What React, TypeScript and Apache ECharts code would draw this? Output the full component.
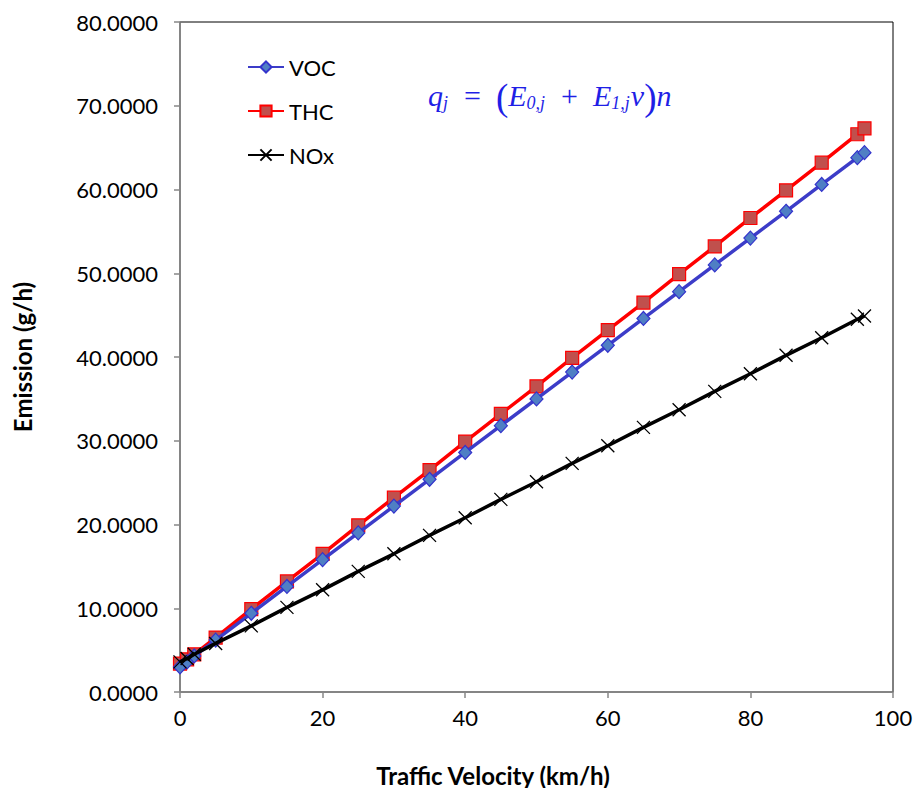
import React, { useEffect, useRef } from "react";
import * as echarts from "echarts";

const velocity = [0, 1, 2, 5, 10, 15, 20, 25, 30, 35, 40, 45, 50, 55, 60, 65, 70, 75, 80, 85, 90, 95, 96];
const voc = [3.0, 3.6, 4.3, 6.2, 9.4, 12.6, 15.8, 19.0, 22.2, 25.4, 28.6, 31.8, 35.0, 38.2, 41.4, 44.6, 47.8, 51.0, 54.2, 57.4, 60.6, 63.8, 64.4];
const thc = [3.4, 3.9, 4.5, 6.5, 9.9, 13.2, 16.5, 19.9, 23.2, 26.5, 29.9, 33.2, 36.5, 39.9, 43.2, 46.5, 49.9, 53.2, 56.6, 59.9, 63.2, 66.6, 67.3];
const nox = [3.6, 4.0, 4.5, 5.8, 7.9, 10.1, 12.2, 14.4, 16.5, 18.7, 20.8, 23.0, 25.1, 27.3, 29.4, 31.6, 33.7, 35.9, 38.0, 40.2, 42.3, 44.5, 44.9];
const seriesNames = ["VOC", "THC", "NOx"];
const xTitle = "Traffic Velocity (km/h)";
const yTitle = "Emission (g/h)";

const FONT = "Lato, 'Open Sans', sans-serif";
const SERIF = "'Liberation Serif', serif";
const FORMULA_COLOR = "#1f1fe6";

export default function App() {
  const ref = useRef<HTMLDivElement>(null);
  useEffect(() => {
    if (!ref.current) return;
    const chart = echarts.init(ref.current, null, { renderer: "svg" });
    const pair = (ys: number[]) => velocity.map((v, i) => [v, ys[i]]);
    const axisGray = "#878787";
    chart.setOption({
      animation: false,
      backgroundColor: "#ffffff",
      textStyle: { fontFamily: FONT },
      grid: {
        left: 180,
        right: 24,
        top: 22,
        bottom: 96,
        show: true,
        borderColor: "#000000",
        borderWidth: 1,
        backgroundColor: "transparent",
      },
      legend: {
        orient: "vertical",
        left: 247,
        top: 56,
        padding: 0,
        itemWidth: 36,
        itemHeight: 14,
        itemGap: 22,
        itemTextGap: 5,
        textStyle: { fontFamily: FONT, fontSize: 22, color: "#000" },
        data: seriesNames,
      },
      xAxis: {
        type: "value",
        min: 0,
        max: 100,
        interval: 20,
        axisLine: { show: true, onZero: false, lineStyle: { color: axisGray, width: 1.5 } },
        axisTick: { show: true, length: 6, inside: false, lineStyle: { color: axisGray, width: 1.5 } },
        axisLabel: { fontFamily: FONT, fontSize: 22, color: "#000", margin: 14 },
        splitLine: { show: false },
      },
      yAxis: {
        type: "value",
        min: 0,
        max: 80,
        interval: 10,
        axisLine: { show: true, onZero: false, lineStyle: { color: axisGray, width: 1.5 } },
        axisTick: { show: true, length: 6, inside: false, lineStyle: { color: axisGray, width: 1.5 } },
        axisLabel: {
          fontFamily: FONT,
          fontSize: 22,
          color: "#000",
          margin: 22,
          formatter: (v: number) => v.toFixed(4),
        },
        splitLine: { show: false },
      },
      graphic: [
        {
          type: "text",
          x: 493,
          y: 775,
          style: {
            text: xTitle,
            fontFamily: FONT,
            fontSize: 24,
            fontWeight: "bold",
            fill: "#000",
            align: "center",
            verticalAlign: "middle",
          },
        },
        {
          type: "text",
          x: 22,
          y: 357,
          rotation: Math.PI / 2,
          style: {
            text: yTitle,
            fontFamily: FONT,
            fontSize: 24,
            fontWeight: "bold",
            fill: "#000",
            align: "center",
            verticalAlign: "middle",
          },
        },
        {
          type: "text",
          x: 428,
          y: 95,
          style: {
            text: "{i|q}{s|j}{n|  =  }{p|(}{i|E}{s|0,j}{n|  +  }{i|E}{s|1,j}{i|v}{p|)}{i|n}",
            fill: FORMULA_COLOR,
            verticalAlign: "middle",
            rich: {
              i: { fontFamily: SERIF, fontStyle: "italic", fontSize: 30, fill: FORMULA_COLOR },
              n: { fontFamily: SERIF, fontSize: 30, fill: FORMULA_COLOR },
              p: { fontFamily: SERIF, fontSize: 37, fill: FORMULA_COLOR, padding: [4, 0, 0, 0] },
              s: { fontFamily: SERIF, fontStyle: "italic", fontSize: 18, fill: FORMULA_COLOR, padding: [15, 1, 0, 0] },
            },
          },
        },
      ],
      series: [
        {
          name: "VOC",
          type: "line",
          data: pair(voc),
          symbol: "diamond",
          symbolSize: [13, 14],
          lineStyle: { color: "#3c3cc8", width: 3.5 },
          itemStyle: { color: "#4f7fc4", borderColor: "#3333cc", borderWidth: 1.2 },
          z: 3,
        },
        {
          name: "THC",
          type: "line",
          data: pair(thc),
          symbol: "rect",
          symbolSize: 13,
          lineStyle: { color: "#ff0000", width: 3.5 },
          itemStyle: { color: "#c0504d", borderColor: "#ff0000", borderWidth: 1.2 },
          z: 2,
        },
        {
          name: "NOx",
          type: "line",
          data: pair(nox),
          symbol: "path://M0,0L10,10M10,0L0,10",
          symbolSize: 13,
          lineStyle: { color: "#000000", width: 3.5 },
          itemStyle: { color: "none", borderColor: "#000000", borderWidth: 1.3 },
          z: 4,
        },
      ],
    });
    return () => chart.dispose();
  }, []);
  return (
    <div
      ref={ref}
      style={{ position: "fixed", left: 0, top: 0, width: 917, height: 788, background: "#fff" }}
    />
  );
}
